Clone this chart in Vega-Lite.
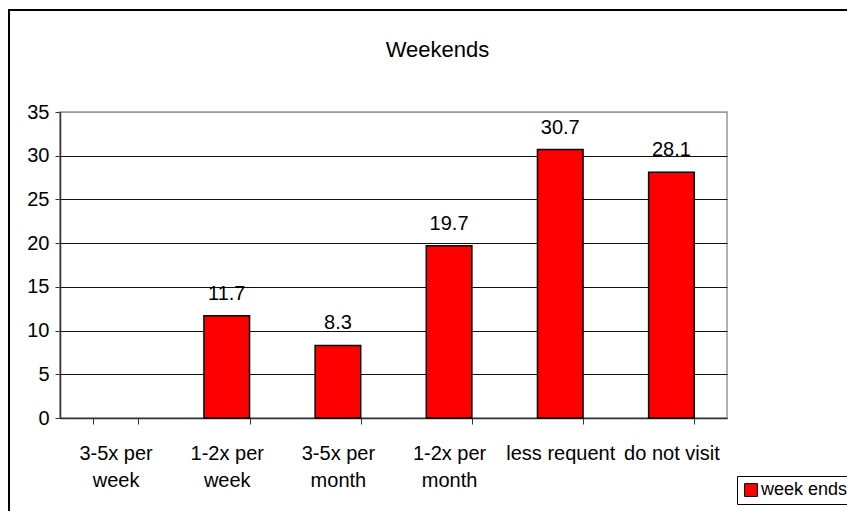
{
  "$schema": "https://vega.github.io/schema/vega-lite/v6.json",
  "autosize": {"type": "none"},
  "width": 667,
  "height": 306,
  "padding": {"left": 60, "top": 112, "right": 120, "bottom": 93},
  "background": "white",
  "config": {
    "font": "Liberation Sans",
    "view": {"stroke": "#999", "strokeWidth": 1.5}
  },
  "title": {
    "text": "Weekends",
    "frame": "group",
    "anchor": "middle",
    "offset": -70,
    "baseline": "alphabetic",
    "dx": 44,
    "fontSize": 22,
    "fontWeight": "normal",
    "font": "Liberation Sans",
    "color": "black"
  },
  "data": {
    "values": [
      {"frequency": "3-5x per week", "percent": 0, "series": "week ends"},
      {"frequency": "1-2x per week", "percent": 11.7, "series": "week ends"},
      {"frequency": "3-5x per month", "percent": 8.3, "series": "week ends"},
      {"frequency": "1-2x per month", "percent": 19.7, "series": "week ends"},
      {"frequency": "less requent", "percent": 30.7, "series": "week ends"},
      {"frequency": "do not visit", "percent": 28.1, "series": "week ends"}
    ]
  },
  "encoding": {
    "x": {
      "field": "frequency",
      "type": "nominal",
      "sort": null,
      "scale": {
        "domain": ["3-5x per week", "1-2x per week", "3-5x per month", "1-2x per month", "less requent", "do not visit"],
        "paddingInner": 0.59,
        "paddingOuter": 0.295
      },
      "axis": {
        "title": null,
        "labelAngle": 0,
        "labelFontSize": 20,
        "labelColor": "black",
        "labelPadding": 19,
        "labelLineHeight": 27,
        "labelExpr": "indexof(datum.label,' per ')>=0 ? [slice(datum.label,0,indexof(datum.label,' per ')+4), slice(datum.label,indexof(datum.label,' per ')+5)] : datum.label",
        "tickBand": "extent",
        "tickSize": 6,
        "tickColor": "#333",
        "domainColor": "#333",
        "domainWidth": 1.5,
        "grid": false
      }
    },
    "y": {
      "field": "percent",
      "type": "quantitative",
      "scale": {"domain": [0, 35], "nice": false},
      "axis": {
        "title": null,
        "values": [0, 5, 10, 15, 20, 25, 30, 35],
        "labelFontSize": 20,
        "labelColor": "black",
        "labelPadding": 6,
        "tickSize": 5,
        "tickColor": "#333",
        "domainColor": "#333",
        "domainWidth": 1.5,
        "grid": true,
        "gridColor": {"condition": {"test": "datum.value == 35", "value": "#999"}, "value": "#111"},
        "gridWidth": 1
      }
    }
  },
  "layer": [
    {
      "mark": {"type": "rect", "fill": null, "stroke": "black", "strokeWidth": 2},
      "encoding": {
        "x": {"value": -51},
        "x2": {"value": 900},
        "y": {"value": -102},
        "y2": {"value": 500}
      }
    },
    {
      "transform": [{"filter": "datum.percent > 0"}],
      "mark": {"type": "bar", "stroke": "black", "strokeWidth": 1.5},
      "encoding": {
        "color": {
          "field": "series",
          "type": "nominal",
          "scale": {"range": ["#FF0000"]},
          "legend": {
            "title": null,
            "orient": "none",
            "legendX": 677,
            "legendY": 364,
            "symbolType": "square",
            "symbolSize": 165,
            "symbolStrokeColor": "black",
            "symbolStrokeWidth": 1,
            "symbolOpacity": 1,
            "labelFontSize": 18,
            "labelColor": "black",
            "labelOffset": 1,
            "strokeColor": "black",
            "fillColor": "white",
            "padding": 5
          }
        }
      }
    },
    {
      "transform": [{"filter": "datum.percent > 0"}],
      "mark": {"type": "text", "baseline": "alphabetic", "dy": -16, "fontSize": 20, "color": "black"},
      "encoding": {
        "text": {"field": "percent", "type": "quantitative", "format": ".1f"}
      }
    }
  ]
}
